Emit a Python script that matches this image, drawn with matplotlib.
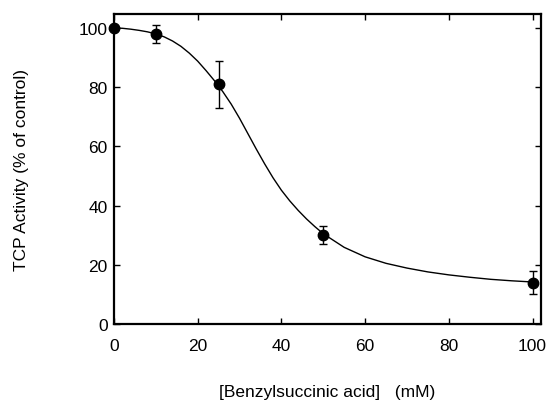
import matplotlib
matplotlib.use("Agg")
import matplotlib.pyplot as plt

plt.rcParams['font.family'] = ['Liberation Sans', 'DejaVu Sans']

# measured points
conc = [0, 10, 25, 50, 100]
activity = [100, 98, 81, 30, 14]
err = [0, 3, 8, 3, 4]

# fitted curve
curve_x = [0, 2, 4, 6, 8, 10, 12, 14, 16, 18, 20, 22, 24, 26, 28, 30, 32, 34, 36,
           38, 40, 42, 44, 46, 48, 50, 55, 60, 65, 70, 75, 80, 85, 90, 95, 100]
curve_y = [100, 99.9, 99.6, 99.2, 98.7, 98.0, 97.0, 95.6, 93.8, 91.5, 88.8, 85.6,
           82.2, 78.5, 74.3, 69.5, 64.3, 59.1, 54.1, 49.4, 45.2, 41.6, 38.4, 35.5,
           32.9, 30.5, 25.9, 22.7, 20.5, 18.9, 17.6, 16.6, 15.8, 15.1, 14.6, 14.2]

fig = plt.figure(figsize=(5.48, 4.02), dpi=100)
ax = fig.add_axes([0.208, 0.1915, 0.779, 0.771])

ax.plot(curve_x, curve_y, color="black", lw=1.0, zorder=2)
ax.errorbar(conc, activity, yerr=err, fmt="o", color="black", ms=7.5,
            elinewidth=1.0, capsize=2.8, capthick=1.0, zorder=3, clip_on=False)

ax.set_xlim(0, 102)
ax.set_ylim(0, 104.7)
ax.set_xticks([0, 20, 40, 60, 80, 100])
ax.set_yticks([0, 20, 40, 60, 80, 100])
ax.tick_params(direction="in", length=4, width=1.0, top=True, right=True,
               labelsize=12.5)
ax.tick_params(axis="x", pad=10)
ax.tick_params(axis="y", pad=4.5)
for s in ax.spines.values():
    s.set_linewidth(1.6)

ax.set_xlabel("[Benzylsuccinic acid]   (mM)", fontsize=12.5)
ax.set_ylabel("TCP Activity (% of control)", fontsize=12.5)
ax.xaxis.set_label_coords(0.5, -0.195)
ax.yaxis.set_label_coords(-0.199, 0.5)

fig.savefig("out.png", dpi=100)
